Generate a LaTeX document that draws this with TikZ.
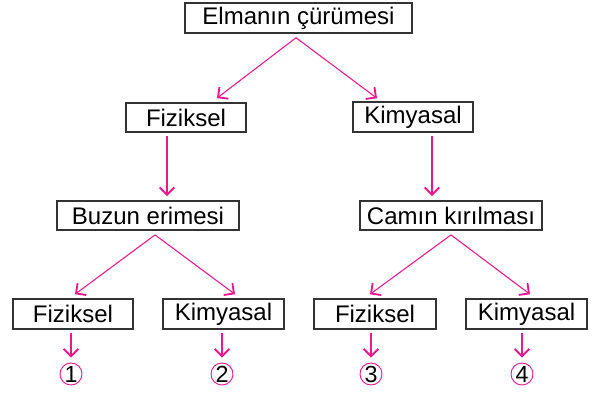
\documentclass[tikz,border=0pt]{standalone}
\usepackage{fontspec}
\setmainfont{Liberation Sans}
\usetikzlibrary{arrows.meta,calc}
\definecolor{pk}{HTML}{E8198C}
\definecolor{bx}{HTML}{333333}
\tikzset{
  box/.style={draw=bx,line width=1.1pt,inner sep=0pt,minimum height=22pt,font=\fontsize{18}{20}\selectfont,text=black},
  arr/.style={draw=pk,line width=0.8pt,-{Straight Barb[length=5.5pt,width=11pt,line width=1.4pt]}},
  num/.style={circle,draw=pk,line width=0.7pt,inner sep=0pt,minimum size=16.5pt,font=\fontsize{17.5}{18}\selectfont,text=black}
}
\begin{document}
\begin{tikzpicture}[x=0.75pt,y=-0.75pt]
\useasboundingbox (0,0) rectangle (602,395);
\node[box,minimum width=170pt,minimum height=22.5pt] (top) at (298.5,18) {Elmanın çürümesi};
\node[box,minimum width=90pt] (fiz2) at (186,117.5) {Fiziksel};
\node[box,minimum width=90pt,minimum height=22.5pt] (kim2) at (413,117) {Kimyasal};
\node[box,minimum width=136.5pt] (buz) at (148,215.5) {Buzun erimesi};
\node[box,minimum width=136.5pt] (cam) at (451,215.5) {Camın kırılması};
\node[box,minimum width=90pt,minimum height=22.5pt] (fiz3a) at (73,314) {Fiziksel};
\node[box,minimum width=90.75pt,minimum height=22.5pt] (kim3a) at (223.5,314) {Kimyasal};
\node[box,minimum width=91.5pt,minimum height=22.5pt] (fiz3b) at (375,314) {Fiziksel};
\node[box,minimum width=90.75pt,minimum height=22.5pt] (kim3b) at (526.5,314) {Kimyasal};
\node[num] (c1) at (71,374) {1};
\node[num] (c2) at (222,374) {2};
\node[num] (c3) at (371,374) {3};
\node[num] (c4) at (522,374) {4};
% top level
\draw[arr] ($(top.south)+(-2.5,4)$) -- ($(fiz2.north)+(31,-4)$);
\draw[arr] ($(top.south)+(-2.5,4)$) -- ($(kim2.north)+(-36,-3)$);
% level 2 down
\draw[arr] ($(fiz2.south)+(-19,3)$) -- ($(buz.north)+(19,-4)$);
\draw[arr] ($(kim2.south)+(19,3)$) -- ($(cam.north)+(-19,-4)$);
% level 3
\draw[arr] ($(buz.south)+(7,4)$) -- ($(fiz3a.north)+(2,-4)$);
\draw[arr] ($(buz.south)+(7,4)$) -- ($(kim3a.north)+(11.5,-4)$);
\draw[arr] ($(cam.south)+(0,4)$) -- ($(fiz3b.north)+(-5,-4)$);
\draw[arr] ($(cam.south)+(0,4)$) -- ($(kim3b.north)+(3.5,-4)$);
% to circles
\draw[arr] ($(fiz3a.south)+(-2,3)$) -- ($(c1.north)+(0,-5)$);
\draw[arr] ($(kim3a.south)+(-1.5,3)$) -- ($(c2.north)+(0,-5)$);
\draw[arr] ($(fiz3b.south)+(-4,3)$) -- ($(c3.north)+(0,-5)$);
\draw[arr] ($(kim3b.south)+(-4.5,3)$) -- ($(c4.north)+(0,-5)$);
\end{tikzpicture}
\end{document}
